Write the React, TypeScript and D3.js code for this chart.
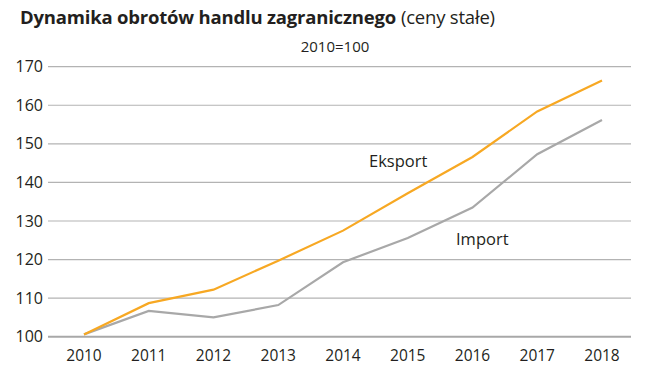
import React from "react";
import * as d3 from "d3";

const years = ["2010", "2011", "2012", "2013", "2014", "2015", "2016", "2017", "2018"];
const eksport = [100.6, 108.7, 112.2, 119.7, 127.5, 137.2, 146.6, 158.4, 166.4];
const importV = [100.6, 106.7, 105.0, 108.2, 119.3, 125.6, 133.5, 147.3, 156.2];
const yTicks = [100, 110, 120, 130, 140, 150, 160, 170];

const W = 645, H = 379;
const font = "'Open Sans', 'Noto Sans', sans-serif";
const textColor = "#231f20";

export default function App() {
  const x = d3.scalePoint<string>().domain(years).range([84, 602]);
  const y = d3.scaleLinear().domain([100, 170]).range([336.7, 66.7]);
  const line = d3.line<number>().x((_, i) => x(years[i])!).y((d) => y(d));

  return (
    <svg width={W} height={H} style={{ position: "absolute", left: 0, top: 0, background: "#fff" }} fontFamily={font}>
      <text x={20} y={24} fontSize={18.5} fill={textColor} letterSpacing={-0.2}>
        <tspan fontWeight="bold">Dynamika obrotów handlu zagranicznego</tspan>
        <tspan dx={5}>(ceny stałe)</tspan>
      </text>
      <text x={335} y={52} fontSize={15} fill={textColor} textAnchor="middle">2010=100</text>
      {yTicks.map((t) => (
        <g key={t}>
          <line x1={48} x2={631} y1={y(t)} y2={y(t)} stroke={t === 100 ? "#a8a8a8" : "#b3b3b3"} strokeWidth={t === 100 ? 2 : 1.2} />
          <text x={43} y={y(t)} dy="0.35em" fontSize={16} fill={textColor} textAnchor="end">{t}</text>
        </g>
      ))}
      {years.map((yr) => (
        <text key={yr} x={x(yr)} y={361} fontSize={15.5} fill={textColor} textAnchor="middle">{yr}</text>
      ))}
      <path d={line(importV)!} fill="none" stroke="#a8a8a8" strokeWidth={2.2} />
      <path d={line(eksport)!} fill="none" stroke="#f7a823" strokeWidth={2.2} />
      <text x={369} y={167} fontSize={16.5} fill={textColor}>Eksport</text>
      <text x={456} y={245} fontSize={16.5} fill={textColor}>Import</text>
    </svg>
  );
}
